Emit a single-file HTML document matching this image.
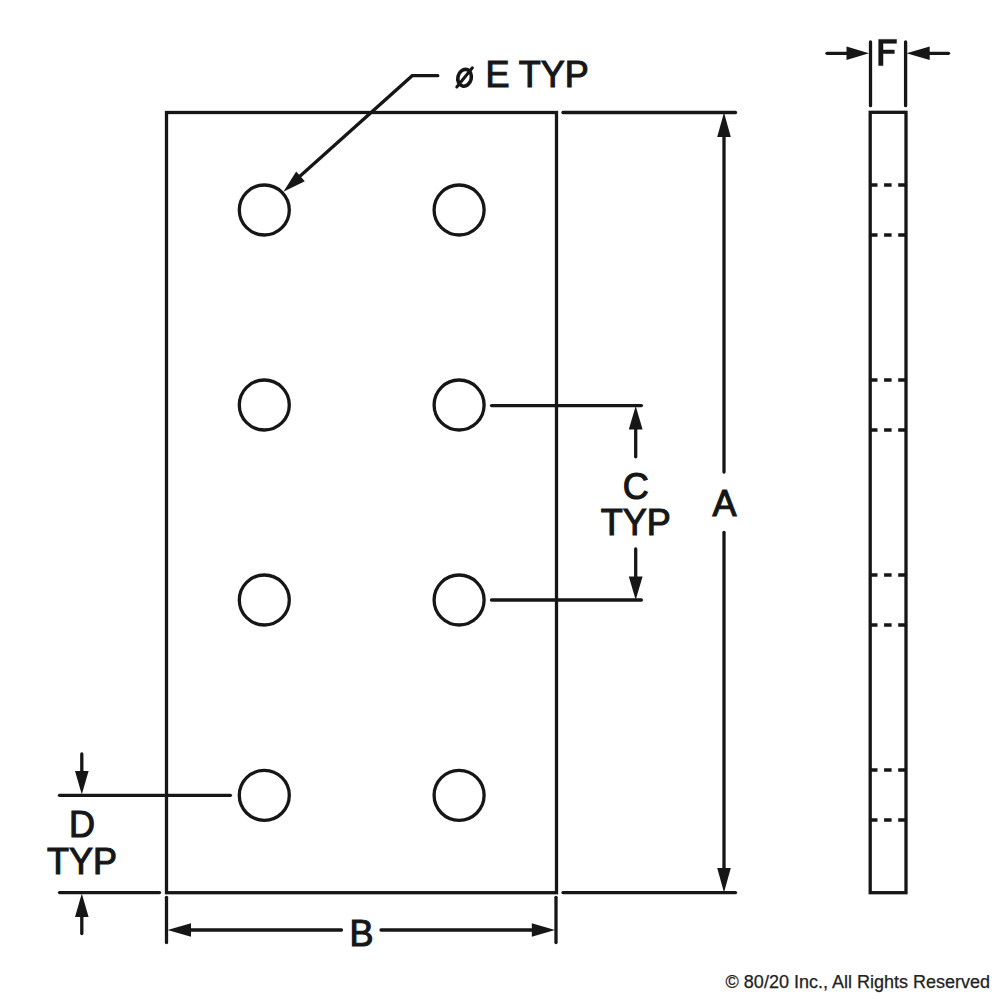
<!DOCTYPE html>
<html><head><meta charset="utf-8">
<style>
html,body{margin:0;padding:0;background:#fff;width:1000px;height:1000px;overflow:hidden}
svg{display:block}
text{font-family:"Liberation Sans",sans-serif;fill:#161616;stroke:#161616;stroke-width:1.1px}
</style></head><body>
<svg width="1000" height="1000" viewBox="0 0 1000 1000">
<g fill="none" stroke="#161616" stroke-width="3.3" stroke-linecap="round">
  <rect x="166.5" y="112.5" width="390" height="780.2"/>
  <circle cx="264.3" cy="210" r="25"/>
  <circle cx="459.1" cy="210" r="25"/>
  <circle cx="264.3" cy="405" r="25"/>
  <circle cx="459.1" cy="405" r="25"/>
  <circle cx="264.3" cy="600" r="25"/>
  <circle cx="459.1" cy="600" r="25"/>
  <circle cx="264.3" cy="795.3" r="25"/>
  <circle cx="459.1" cy="795.3" r="25"/>
  <polyline points="437.8,75.7 412.2,75.7 298.5,177.5"/>
  <line x1="563" y1="112.5" x2="735.5" y2="112.5"/>
  <line x1="563" y1="892.6" x2="735.5" y2="892.6"/>
  <line x1="724" y1="135" x2="724" y2="472"/>
  <line x1="724" y1="532.5" x2="724" y2="870"/>
  <line x1="491.5" y1="405.6" x2="641.4" y2="405.6"/>
  <line x1="491.5" y1="600" x2="641.4" y2="600"/>
  <line x1="635.7" y1="428" x2="635.7" y2="456.8"/>
  <line x1="635.7" y1="549" x2="635.7" y2="578"/>
  <line x1="59.5" y1="795.3" x2="230.4" y2="795.3"/>
  <line x1="59.5" y1="892.6" x2="159.5" y2="892.6"/>
  <line x1="81.8" y1="754" x2="81.8" y2="772"/>
  <line x1="81.8" y1="916" x2="81.8" y2="933.5"/>
  <line x1="166.5" y1="897.3" x2="166.5" y2="942.6"/>
  <line x1="556" y1="897.3" x2="556" y2="942.6"/>
  <line x1="190" y1="930" x2="341.5" y2="930"/>
  <line x1="381" y1="930" x2="533" y2="930"/>
  <rect x="870.2" y="112.3" width="35.8" height="780.4"/>
  <line x1="870.5" y1="42" x2="870.5" y2="105.7"/>
  <line x1="905.6" y1="42" x2="905.6" y2="105.7"/>
  <line x1="827" y1="53.3" x2="848" y2="53.3"/>
  <line x1="928" y1="53.3" x2="948.5" y2="53.3"/>
</g>
<g fill="none" stroke="#161616" stroke-width="3.3" stroke-dasharray="7.5 6.6">
  <line x1="870" y1="185" x2="906" y2="185"/>
  <line x1="870" y1="235" x2="906" y2="235"/>
  <line x1="870" y1="380" x2="906" y2="380"/>
  <line x1="870" y1="430" x2="906" y2="430"/>
  <line x1="870" y1="575" x2="906" y2="575"/>
  <line x1="870" y1="625" x2="906" y2="625"/>
  <line x1="870" y1="770" x2="906" y2="770"/>
  <line x1="870" y1="820" x2="906" y2="820"/>
</g>
<g fill="#161616" stroke="none">
  <polygon points="724,112.5 717.2,137 730.8,137"/>
  <polygon points="724,892.5 717.2,868 730.8,868"/>
  <polygon points="635.7,406 628.8,429.5 642.6,429.5"/>
  <polygon points="635.7,600 628.8,576.5 642.6,576.5"/>
  <polygon points="81.8,794.5 75,771 88.6,771"/>
  <polygon points="81.8,893.5 75,917 88.6,917"/>
  <polygon points="167.5,930 191,923.2 191,936.8"/>
  <polygon points="555,930 531.8,923.2 531.8,936.8"/>
  <polygon points="869,53.3 846.5,46.5 846.5,60"/>
  <polygon points="906.5,53.3 929.7,46.5 929.7,60"/>
  <polygon points="283.4,191.8 296.2,171.6 304.8,181.2"/>
</g>
<text x="453.5" y="87" font-size="36"><tspan style="fill:none;stroke:none">ø</tspan> E TYP</text>
<g fill="none" stroke="#161616">
  <ellipse cx="464.6" cy="77.8" rx="6.7" ry="8.5" stroke-width="3.6" transform="rotate(14 464.6 77.8)"/>
  <line x1="456.8" y1="87" x2="472.4" y2="67.8" stroke-width="3" stroke-linecap="round"/>
</g>
<text x="724.5" y="515.8" font-size="36" text-anchor="middle">A</text>
<text x="635.7" y="499" font-size="36" text-anchor="middle">C</text>
<text x="635.7" y="534.8" font-size="36" text-anchor="middle">TYP</text>
<text x="82" y="836.8" font-size="36" text-anchor="middle">D</text>
<text x="82" y="873.8" font-size="36" text-anchor="middle">TYP</text>
<text x="361.5" y="945.7" font-size="36" text-anchor="middle">B</text>
<path d="M878.7,39.4 H896.5 V43.3 H883 V50 H894.3 V53.6 H883 V65.6 H878.7 Z" fill="#161616" stroke="#161616" stroke-width="0.5" stroke-linejoin="round"/>
<text x="990" y="988" font-size="18" text-anchor="end" style="fill:#222;stroke:#222;stroke-width:0.25px">© 80/20 Inc., All Rights Reserved</text>
</svg>
</body></html>
